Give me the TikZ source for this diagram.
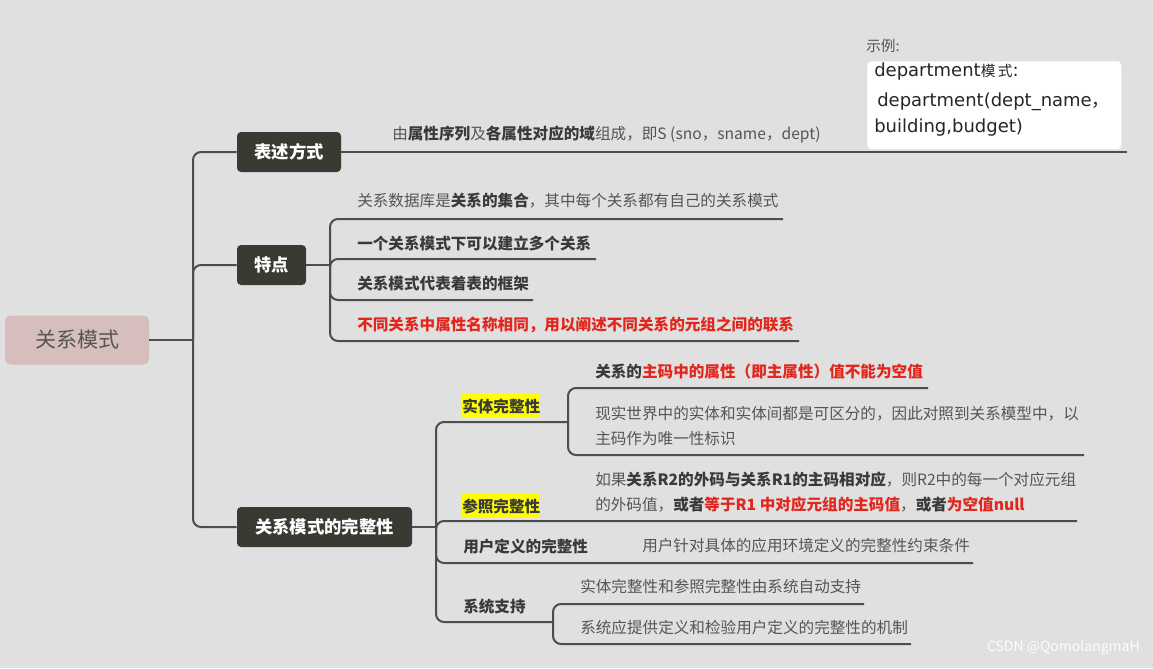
\documentclass[tikz,border=0pt]{standalone}
\usepackage{fontspec}
\setmainfont{Noto Sans CJK SC}
\newfontfamily\exfont{DejaVu Sans}
\definecolor{bg}{HTML}{E0E0E0}
\definecolor{dark}{HTML}{3A3A33}
\definecolor{txt}{HTML}{555555}
\definecolor{bld}{HTML}{3A3A3A}
\definecolor{rd}{HTML}{E2261C}
\definecolor{ln}{HTML}{4D4D4D}
\definecolor{rootc}{HTML}{D5BEBC}
\definecolor{hl}{HTML}{FFFF00}
\newcommand\mybf[1]{\textbf{\color{bld}#1}}
\newcommand\myrd[1]{\textbf{\color{rd}#1}}
\begin{document}
\begin{tikzpicture}[x=0.75pt,y=-0.75pt,
  conn/.style={draw=ln,line width=1.5pt,rounded corners=6pt},
  topic/.style={fill=dark,text=white,rounded corners=3pt,minimum height=30pt,inner sep=0pt,font=\fontsize{13}{15}\selectfont\bfseries},
  leaf/.style={anchor=west,inner sep=0pt,text=txt,font=\fontsize{11.7}{18.75}\selectfont,align=left},
  bleaf/.style={leaf,text=bld,font=\fontsize{11.7}{18.75}\selectfont\bfseries},
  hlabel/.style={bleaf,fill=hl,inner xsep=0pt,minimum height=18pt},
  exline/.style={anchor=west,inner sep=0pt,text=black!85,font=\exfont\fontsize{13.5}{16}\selectfont}
]
\fill[bg] (0,0) rectangle (1153,668);
\useasboundingbox (0,0) rectangle (1153,668);

% root
\node[fill=rootc,rounded corners=4pt,minimum width=108pt,minimum height=36.75pt,inner sep=0pt,text=txt,font=\fontsize{15.75}{18}\selectfont] (root) at (77,340) {关系模式};

% main topics
\node[topic,minimum width=78pt] (n1) at (289,152) {表述方式};
\node[topic,minimum width=51.75pt] (n2) at (271.5,265) {特点};
\node[topic,minimum width=131.25pt] (n3) at (324.5,527) {关系模式的完整性};

\coordinate (J1) at (193,340);
\draw[conn] (root.east) -- (J1);
\draw[conn] (J1) |- (n1.west);
\draw[conn] (J1) |- (n2.west);
\draw[conn] (J1) |- (n3.west);

% 表述方式
\coordinate (e1) at (1127,152);
\draw[conn] (n1.east) -- (e1);
\node[leaf] (t1) at (392,135) {由\mybf{属性序列}及\mybf{各属性对应的域}组成，即S (sno，sname，dept)};

% example
\node[anchor=west,inner sep=0pt,text=txt,font=\fontsize{11}{12}\selectfont] (exl) at (866,46) {示例:};
\node[fill=white,rounded corners=3pt,minimum width=190.5pt,minimum height=66pt,anchor=north west,inner sep=0pt] (exbox) at (867,61) {};
\node[exline] (ex1) at (874,72) {department{\normalfont\fontsize{11}{12}\selectfont 模\,式}:};
\node[exline] (ex2) at (877,102) {department(dept\_name{\normalfont ，}};
\node[exline] (ex3) at (874,128) {building,budget)};

% 特点
\coordinate (J2) at (330,265);
\draw[conn] (n2.east) -- (J2);
\coordinate (a1e) at (783,219);
\coordinate (a2e) at (596,259);
\coordinate (a3e) at (533,300);
\coordinate (a4e) at (799,341);
\draw[conn] (J2) |- (a1e);
\draw[conn] (J2) |- (a2e);
\draw[conn] (J2) |- (a3e);
\draw[conn] (J2) |- (a4e);
\node[leaf] (a1) at (357,201) {关系数据库是\mybf{关系的集合}，其中每个关系都有自己的关系模式};
\node[bleaf] (a2) at (357,243) {一个关系模式下可以建立多个关系};
\node[bleaf] (a3) at (357,284) {关系模式代表着表的框架};
\node[bleaf,text=rd] (a4) at (357,325) {不同关系中属性名称相同，用以阐述不同关系的元组之间的联系};

% 完整性
\coordinate (J3) at (436,527);
\draw[conn] (n3.east) -- (J3);
% 实体完整性
\coordinate (K1) at (568,422);
\coordinate (b1ae) at (928,388);
\coordinate (b1be) at (1084,455);
\draw[conn] (J3) |- (K1);
\draw[conn] (K1) |- (b1ae);
\draw[conn] (K1) |- (b1be);
\node[hlabel] (b1) at (462,406) {实体完整性};
\node[leaf] (b1a) at (595,372) {\mybf{关系的}\myrd{主码中的属性（即主属性）值不能为空值}};
\node[leaf] (b1b) at (595,426) {现实世界中的实体和实体间都是可区分的，因此对照到关系模型中，以\\主码作为唯一性标识};
% 参照完整性
\coordinate (b2e) at (1077,521);
\draw[conn] (J3) |- (b2e);
\node[hlabel] (b2) at (462,506) {参照完整性};
\node[leaf] (b2a) at (595,492) {如果\mybf{关系R2的外码与关系R1的主码相对应}，则R2中的每一个对应元组\\的外码值，\mybf{或者}\myrd{等于R1 中对应元组的主码值}，\mybf{或者}\myrd{为空值null}};
% 用户定义
\coordinate (b3e) at (973,563);
\draw[conn] (J3) |- (b3e);
\node[bleaf] (b3) at (463,547) {用户定义的完整性};
\node[leaf] (b3a) at (642,546) {用户针对具体的应用环境定义的完整性约束条件};
% 系统支持
\coordinate (K4) at (553,622);
\coordinate (b4ae) at (864,604);
\coordinate (b4be) at (911,644);
\draw[conn] (J3) |- (K4);
\draw[conn] (K4) |- (b4ae);
\draw[conn] (K4) |- (b4be);
\node[bleaf] (b4) at (463,607) {系统支持};
\node[leaf] (b4a) at (580,587) {实体完整性和参照完整性由系统自动支持};
\node[leaf] (b4b) at (580,628) {系统应提供定义和检验用户定义的完整性的机制};

% watermark
\node[anchor=east,inner sep=0pt,text=white!98!gray,font=\fontsize{10.5}{12}\selectfont] (wm) at (1140,648) {CSDN @QomolangmaH};
\end{tikzpicture}
\end{document}
